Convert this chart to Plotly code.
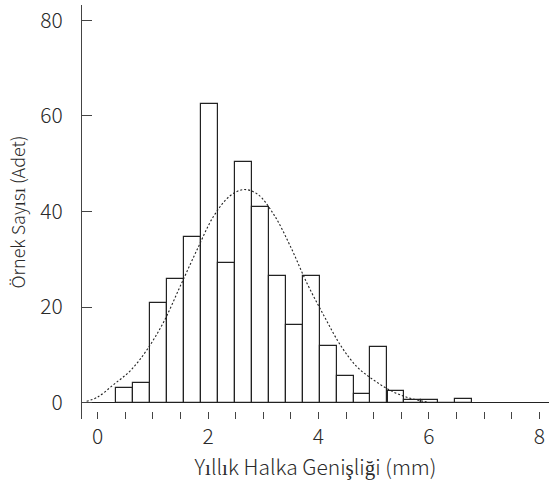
import plotly.graph_objects as go

# Histogram bins (centers, mm) and counts
bin_centers = [0.484, 0.791, 1.099, 1.406, 1.714, 2.021, 2.329, 2.636, 2.944, 3.251,
               3.559, 3.866, 4.174, 4.481, 4.789, 5.096, 5.404, 5.711, 6.019, 6.326, 6.634]
counts = [3.0, 4.2, 20.8, 25.9, 34.7, 62.4, 29.2, 50.3, 41.0, 26.5,
          16.3, 26.6, 11.8, 5.5, 1.9, 11.6, 2.5, 0.5, 0.5, 0.0, 0.8]
bin_width = 0.3075

# Fitted normal curve
curve_x = [-0.2, 0.0, 0.3, 0.6, 0.9, 1.2, 1.5, 1.8, 2.1, 2.4, 2.65, 2.9, 3.2, 3.5,
           3.8, 4.1, 4.4, 4.7, 5.0, 5.3, 5.6, 5.9, 6.0]
curve_y = [0.3, 1.2, 3.9, 6.8, 11.2, 17.0, 24.5, 32.0, 39.0, 43.3, 44.6, 43.6, 39.2, 32.5,
           24.8, 18.2, 12.0, 7.5, 4.75, 2.6, 1.15, 0.3, 0.1]

x_tick_vals = [0, 2, 4, 6, 8]
y_tick_vals = [0, 20, 40, 60, 80]

FONT = "Noto Sans CJK JP"
INK = "#222222"
TXT = "#2a2a2a"

fig = go.Figure()
fig.add_trace(go.Bar(
    x=bin_centers, y=counts, width=bin_width,
    marker=dict(color="white", line=dict(color=INK, width=1.2)),
    showlegend=False, hoverinfo="skip",
))
fig.add_trace(go.Scatter(
    x=curve_x, y=curve_y, mode="lines", line_shape="spline",
    line=dict(color=INK, width=1.1, dash="2px,2px"),
    showlegend=False, hoverinfo="skip",
))

fig.update_layout(
    width=549, height=488,
    margin=dict(l=82, r=0, t=5, b=69),
    plot_bgcolor="white", paper_bgcolor="white",
    font=dict(family=FONT, color=TXT),
    bargap=0,
)
fig.update_xaxes(
    range=[-0.284, 8.176], automargin=False,
    tickvals=x_tick_vals, ticks="inside", ticklen=7, tickcolor="#444", tickwidth=1,
    minor=dict(dtick=0.5, tick0=0, ticks="inside", ticklen=7, tickcolor="#444", tickwidth=1),
    showline=False, showgrid=False, zeroline=False,
    tickfont=dict(size=21, family=FONT, color=TXT, weight=300),
    ticklabelstandoff=3,
    title=dict(text="Yıllık Halka Genişliği (mm)", font=dict(size=21, family=FONT, color=TXT, weight=300), standoff=11),
)
fig.update_yaxes(
    range=[-3.4, 83.2], automargin=False,
    tickvals=y_tick_vals, ticks="inside", ticklen=10, tickcolor="#444", tickwidth=1,
    showline=True, linecolor="#444", linewidth=1,
    showgrid=False, zeroline=True, zerolinecolor=INK, zerolinewidth=1.2,
    tickfont=dict(size=21, family=FONT, color=TXT, weight=300),
    ticklabelstandoff=14,
    title=dict(text="Örnek Sayısı (Adet)", font=dict(size=18, family=FONT, color=TXT, weight=300), standoff=10),
)

fig.write_html("out.html", config={"displayModeBar": False},
               post_script="document.body.style.margin='0';")
